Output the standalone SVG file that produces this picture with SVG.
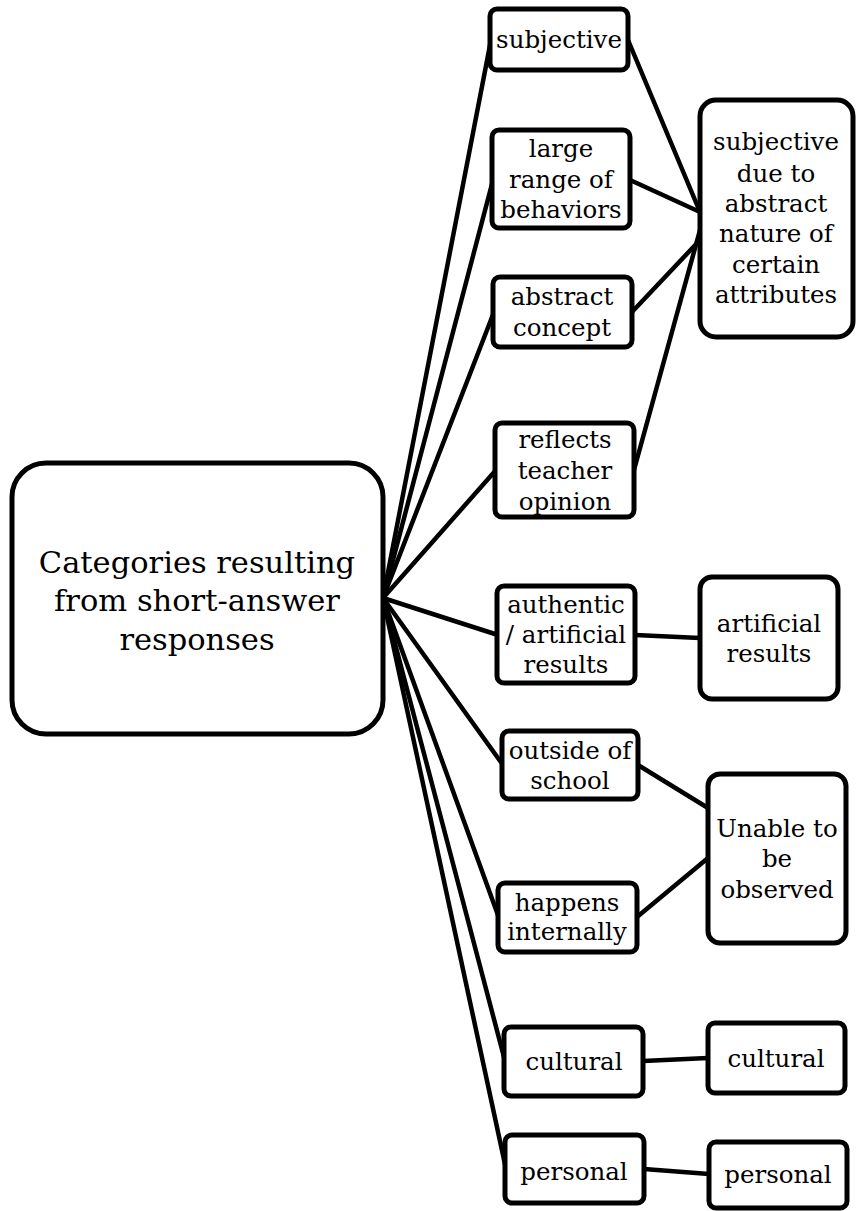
<svg xmlns="http://www.w3.org/2000/svg" width="856" height="1211" viewBox="0 0 856 1211">
<style>
.box{fill:#fff;stroke:#000;stroke-width:5}
.ln{stroke:#000;stroke-width:4.5;fill:none;stroke-linecap:round}
text{font-family:"DejaVu Serif","Liberation Serif",serif;font-size:24.5px;fill:#000;text-anchor:middle}
.big{font-size:30.5px}
</style>
<rect width="856" height="1211" fill="#fff"/>
<g id="connectors">
<line class="ln" x1="383" y1="598" x2="491" y2="40"/>
<line class="ln" x1="383" y1="598" x2="493" y2="180"/>
<line class="ln" x1="383" y1="598" x2="494" y2="312"/>
<line class="ln" x1="383" y1="598" x2="496" y2="470"/>
<line class="ln" x1="383" y1="598" x2="498" y2="635"/>
<line class="ln" x1="383" y1="598" x2="503" y2="765"/>
<line class="ln" x1="383" y1="598" x2="499" y2="918"/>
<line class="ln" x1="383" y1="598" x2="505" y2="1061"/>
<line class="ln" x1="383" y1="598" x2="506" y2="1169"/>
<line class="ln" x1="628" y1="40" x2="700" y2="212"/>
<line class="ln" x1="630" y1="180" x2="700" y2="212"/>
<line class="ln" x1="632" y1="312" x2="700" y2="240"/>
<line class="ln" x1="634" y1="470" x2="700" y2="230"/>
<line class="ln" x1="635" y1="635" x2="700" y2="638"/>
<line class="ln" x1="638" y1="765" x2="708" y2="808"/>
<line class="ln" x1="637" y1="917" x2="708" y2="858"/>
<line class="ln" x1="643" y1="1061" x2="708" y2="1058"/>
<line class="ln" x1="644" y1="1169" x2="709" y2="1174"/>
</g>
<g id="root">
<rect class="box" x="12" y="463" width="371" height="271" rx="34"/>
<text class="big" x="197" y="573">Categories resulting</text>
<text class="big" x="197" y="611">from short-answer</text>
<text class="big" x="197" y="650">responses</text>
</g>
<g id="n-subjective">
<rect class="box" x="490" y="9" width="138" height="61" rx="7"/>
<text x="559" y="48">subjective</text>
</g>
<g id="n-large-range">
<rect class="box" x="492" y="130" width="138" height="98" rx="7"/>
<text x="561" y="157">large</text>
<text x="561" y="188">range of</text>
<text x="561" y="218">behaviors</text>
</g>
<g id="n-abstract">
<rect class="box" x="493" y="277" width="139" height="70" rx="7"/>
<text x="562" y="305">abstract</text>
<text x="562" y="336">concept</text>
</g>
<g id="n-reflects">
<rect class="box" x="495" y="423" width="139" height="94" rx="7"/>
<text x="565" y="448">reflects</text>
<text x="565" y="479">teacher</text>
<text x="565" y="510">opinion</text>
</g>
<g id="n-authentic">
<rect class="box" x="497" y="586" width="138" height="97" rx="7"/>
<text x="566" y="613">authentic</text>
<text x="566" y="643">/ artificial</text>
<text x="566" y="673">results</text>
</g>
<g id="n-outside">
<rect class="box" x="502" y="731" width="136" height="68" rx="7"/>
<text x="570" y="759">outside of</text>
<text x="570" y="789">school</text>
</g>
<g id="n-happens">
<rect class="box" x="498" y="883" width="139" height="69" rx="7"/>
<text x="567" y="911">happens</text>
<text x="567" y="940">internally</text>
</g>
<g id="n-cultural">
<rect class="box" x="504" y="1027" width="139" height="69" rx="7"/>
<text x="574" y="1070">cultural</text>
</g>
<g id="n-personal">
<rect class="box" x="505" y="1135" width="139" height="68" rx="7"/>
<text x="574" y="1180">personal</text>
</g>
<g id="t-subjective-abstract">
<rect class="box" x="700" y="100" width="153" height="237" rx="16"/>
<text x="776" y="150">subjective</text>
<text x="776" y="182">due to</text>
<text x="776" y="212">abstract</text>
<text x="776" y="242">nature of</text>
<text x="776" y="273">certain</text>
<text x="776" y="303">attributes</text>
</g>
<g id="t-artificial">
<rect class="box" x="700" y="577" width="138" height="122" rx="12"/>
<text x="769" y="632">artificial</text>
<text x="769" y="662">results</text>
</g>
<g id="t-unable">
<rect class="box" x="708" y="774" width="138" height="169" rx="12"/>
<text x="777" y="837">Unable to</text>
<text x="777" y="867">be</text>
<text x="777" y="898">observed</text>
</g>
<g id="t-cultural">
<rect class="box" x="708" y="1023" width="137" height="70" rx="7"/>
<text x="776" y="1067">cultural</text>
</g>
<g id="t-personal">
<rect class="box" x="709" y="1142" width="138" height="66" rx="7"/>
<text x="778" y="1183">personal</text>
</g>
</svg>
